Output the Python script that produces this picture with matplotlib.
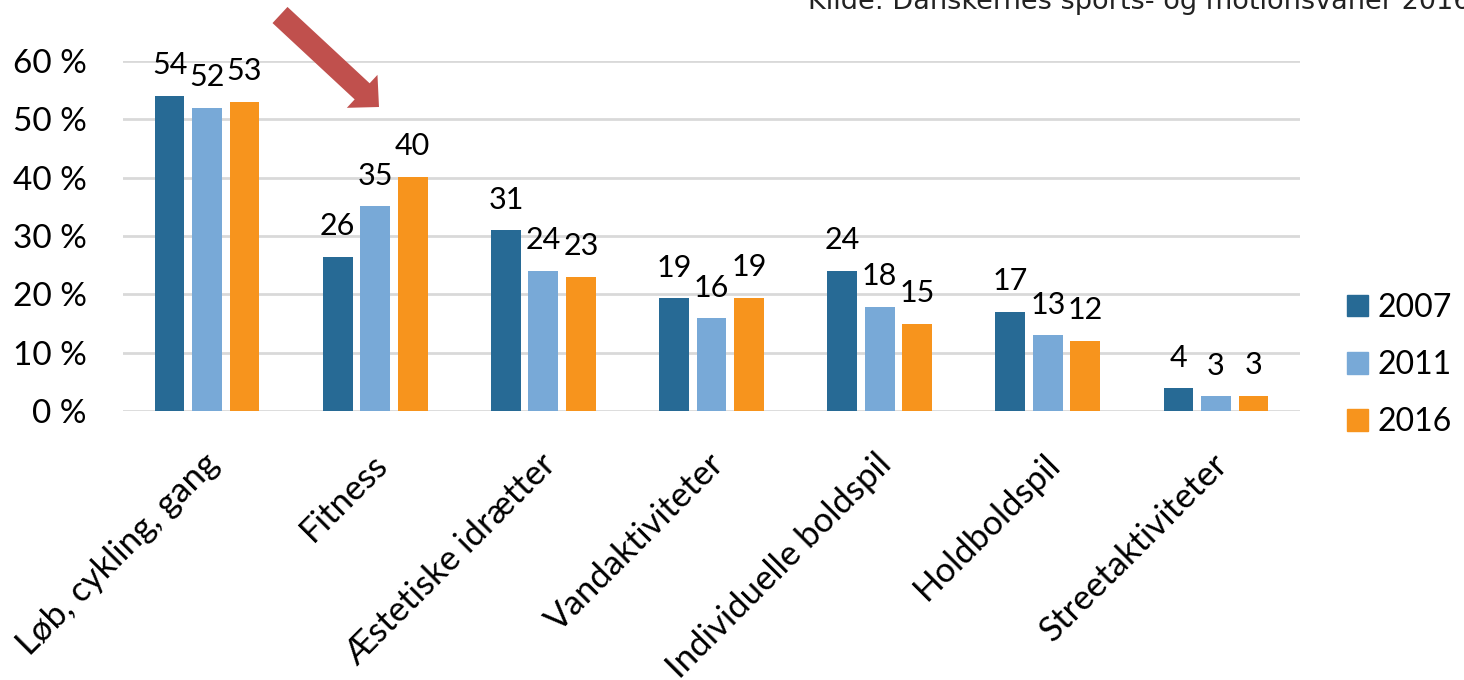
import matplotlib
matplotlib.use("Agg")
import matplotlib.pyplot as plt
import matplotlib.transforms as mtransforms
import numpy as np
from matplotlib.patches import FancyArrow, Rectangle

categories = ["Løb, cykling, gang", "Fitness", "Æstetiske idrætter", "Vandaktiviteter",
              "Individuelle boldspil", "Holdboldspil", "Streetaktiviteter"]
years = ["2007", "2011", "2016"]
v2007 = [54.0, 26.4, 31.0, 19.3, 24.0, 17.0, 3.9]
v2011 = [52.0, 35.1, 24.0, 15.9, 17.9, 13.0, 2.5]
v2016 = [53.0, 40.2, 23.0, 19.4, 15.0, 12.0, 2.6]
yticks = [0, 10, 20, 30, 40, 50, 60]
source = "Kilde: Danskernes sports- og motionsvaner 2016"

colors = ["#276A95", "#78A9D7", "#F7941D"]
FONT = "Lato"
FS_VAL = 22
FS_TICK = 24
FS_LEG = 23
FS_X = 25

W, H = 1464, 680
fig = plt.figure(figsize=(W / 100, H / 100), dpi=100)
ax = fig.add_axes([123 / W, 1 - 411 / H, (1300 - 123) / W, (411 - 61) / H])

x = np.arange(len(categories))
step = 0.223
width = 0.177
for k, (vals, col) in enumerate(zip([v2007, v2011, v2016], colors)):
    pos = x + (k - 1) * step
    ax.bar(pos, vals, width=width, color=col, zorder=3, linewidth=0)
    for px, v in zip(pos, vals):
        ax.annotate(str(int(np.floor(v + 0.5))), (px, v), xytext=(0, 15.5),
                    textcoords="offset points", ha="center", va="baseline",
                    fontsize=FS_VAL, family=FONT, color="black",
                    annotation_clip=False, zorder=4)

ax.set_xlim(-0.5, len(categories) - 0.5)
ax.set_ylim(0, 60)
ax.set_yticks(yticks)
ax.set_yticklabels([f"{t} %" for t in yticks], fontsize=FS_TICK, family=FONT)
ax.yaxis.grid(True, color="#D9D9D9", linewidth=2, zorder=0)
ax.tick_params(axis="y", length=0, pad=26)
ax.tick_params(axis="x", length=0, pad=10)
for s in ax.spines.values():
    s.set_visible(False)

ax.set_xticks(x)
ax.set_xticklabels(categories, rotation=45, ha="right", va="center",
                   rotation_mode="anchor", fontsize=FS_X, family=FONT)
off = mtransforms.ScaledTranslation(0.07, -0.34, fig.dpi_scale_trans)
for lab in ax.get_xticklabels():
    lab.set_transform(lab.get_transform() + off)

# legend
handles = [Rectangle((0, 0), 1, 1, color=c) for c in colors]
fig.legend(handles, years, loc="center left", bbox_to_anchor=(1347 / W, 1 - 365 / H),
           frameon=False, prop={"family": FONT, "size": FS_LEG},
           handlelength=0.66, handleheight=0.66, handletextpad=0.3, labelspacing=0.85,
           borderaxespad=0, borderpad=0)

# source text (partly cut at the top edge, as in the original)
fig.text(808 / W, 1 - 9 / H, source, fontsize=19.5, family="DejaVu Sans", color="#222222",
         ha="left", va="baseline")

# arrow in pixel coords
tail = (280, 15)
tip = (379, 107)
dx, dy = tip[0] - tail[0], tip[1] - tail[1]
arr = FancyArrow(tail[0] / 100, (H - tail[1]) / 100, dx / 100, -dy / 100,
                 width=0.22, head_width=0.45, head_length=0.23,
                 length_includes_head=True, color="#C0504D", linewidth=0,
                 transform=fig.dpi_scale_trans)
fig.patches.append(arr)

fig.savefig("out.png", dpi=100)
